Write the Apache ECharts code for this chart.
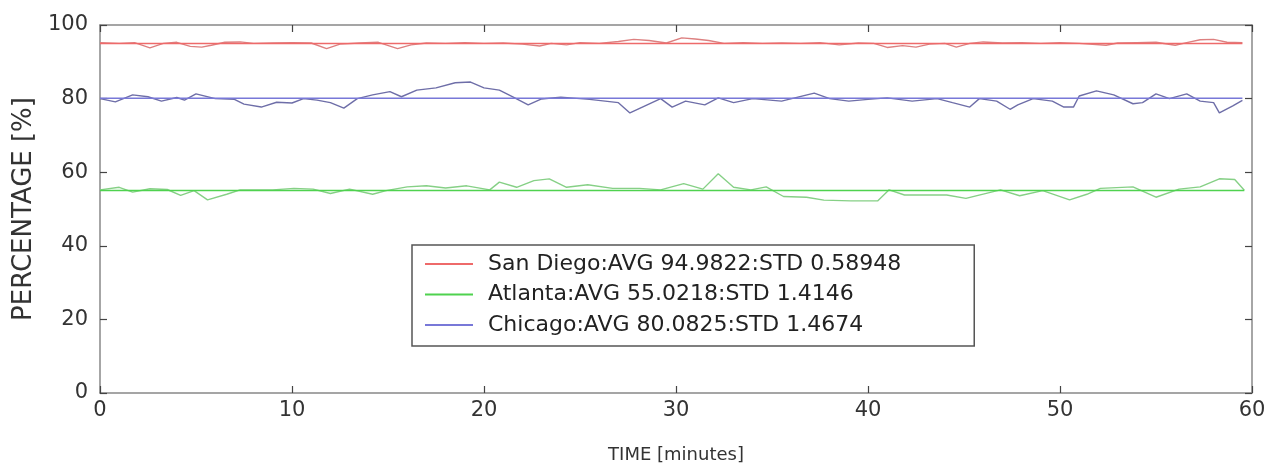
<!DOCTYPE html>
<html>
<head>
<meta charset="utf-8">
<script src="https://cdn.jsdelivr.net/npm/echarts@6/dist/echarts.min.js"></script>
<style>
  html, body { margin: 0; padding: 0; background: #fff; }
  #chart { width: 1278px; height: 466px; }
</style>
</head>
<body>
<div id="chart"></div>
<script>
// legend info
const cities = ['San Diego', 'Atlanta', 'Chicago'];
const avgs = ['94.9822', '55.0218', '80.0825'];
const stds = ['0.58948', '1.4146', '1.4674'];

// [minutes, percent]
const sanDiego = [[0,95.2],[1,95],[1.8,95.2],[2.6,93.8],[3.3,95],[4,95.3],[4.7,94.2],[5.3,94],[5.8,94.5],[6.5,95.3],
  [7.3,95.4],[8,95],[9,95.1],[10,95.2],[11,95.1],[11.8,93.6],[12.5,94.8],[13.5,95.1],[14.5,95.3],[15.5,93.6],
  [16.2,94.6],[17,95.1],[18,95],[19,95.2],[20,95],[21,95.1],[22,94.8],[22.9,94.3],[23.5,95],[24.3,94.6],
  [25,95.2],[26,95],[27,95.5],[27.8,96.1],[28.6,95.8],[29.5,95.1],[30.3,96.5],[31,96.2],[31.7,95.8],[32.5,95],
  [33.5,95.2],[34.5,95],[35.5,95.1],[36.5,95],[37.5,95.2],[38.5,94.6],[39.5,95.1],[40.3,95],[41,93.9],[41.8,94.4],
  [42.5,94],[43.2,94.8],[44,95],[44.6,94],[45.3,95],[46,95.4],[47,95.1],[48,95.2],[49,95],[50,95.2],
  [51,95],[52.4,94.5],[53,95.1],[54,95.2],[55,95.3],[56,94.5],[56.6,95.2],[57.3,96],[58,96.1],[58.7,95.3],[59.5,95.2]];

const atlanta = [[0,55.2],[1,55.9],[1.7,54.6],[2.6,55.5],[3.5,55.3],[4.2,53.7],[4.9,55],[5.6,52.5],[6.6,54],[7.3,55.2],
  [9,55.2],[10.1,55.6],[11.1,55.4],[12,54.2],[13,55.4],[14.2,54],[14.9,55],[16,56],[17,56.3],[18,55.7],
  [19.1,56.3],[20.3,55.2],[20.8,57.3],[21.7,55.9],[22.6,57.7],[23.4,58.2],[24.3,55.9],[25.4,56.6],[26.7,55.6],[28.1,55.6],
  [29.2,55.2],[30.4,56.9],[31.4,55.4],[32.2,59.6],[33,55.9],[33.9,55.2],[34.7,56],[35.6,53.4],[36.8,53.2],[37.7,52.4],
  [39.1,52.2],[40.5,52.2],[41.1,55.2],[41.9,53.8],[44.1,53.8],[45.1,52.9],[46.9,55.2],[47.9,53.6],[49.1,55],[50.5,52.5],
  [51.4,54],[52.1,55.6],[53.8,56],[55,53.2],[56.2,55.4],[57.3,56],[58.3,58.2],[59.1,58],[59.6,55.1]];

const chicago = [[0,80],[0.8,79.1],[1.7,81],[2.5,80.5],[3.2,79.3],[4,80.3],[4.4,79.6],[5,81.3],[6,80],[7,79.8],
  [7.5,78.5],[8.4,77.7],[9.2,79],[10,78.8],[10.6,80],[11.3,79.6],[12,78.9],[12.7,77.4],[13.4,80],[14.2,81],
  [15.1,81.9],[15.7,80.5],[16.5,82.3],[17.5,82.9],[18.5,84.3],[19.3,84.5],[20,82.9],[20.8,82.3],[21.5,80.5],[22.3,78.3],
  [23,79.9],[24,80.4],[25.5,79.8],[27,78.9],[27.6,76.1],[28.5,78.3],[29.2,80],[29.8,77.7],[30.5,79.3],[31.5,78.3],
  [32.2,80.2],[33,78.9],[34,80],[35.5,79.3],[37.2,81.5],[38,80],[39,79.3],[40,79.8],[41,80.2],[42.3,79.3],
  [43.6,80],[44.4,78.9],[45.3,77.7],[45.8,80],[46.7,79.3],[47.4,77.1],[47.8,78.3],[48.6,80],[49.6,79.3],[50.2,77.7],
  [50.7,77.7],[51,80.7],[51.9,82.1],[52.8,81],[53.8,78.6],[54.3,78.9],[55,81.3],[55.7,80],[56.6,81.3],[57.3,79.3],
  [58,78.9],[58.3,76.1],[59,78],[59.5,79.5]];

const seriesData = [sanDiego, atlanta, chicago];
const lineColors = ['#dd8080', '#86d086', '#6e6ea8'];
const avgColors = ['#ee6a6a', '#4fd24f', '#7878d8'];

const font = 'DejaVu Sans';
const chart = echarts.init(document.getElementById('chart'));

const series = [];
seriesData.forEach((d, i) => {
  series.push({
    name: cities[i],
    type: 'line',
    data: d,
    symbol: 'none',
    color: avgColors[i],
    lineStyle: { width: 1.4, color: lineColors[i] },
    silent: true
  });
});
seriesData.forEach((d, i) => {
  const t0 = d[0][0], t1 = d[d.length - 1][0];
  series.push({
    name: cities[i] + ' avg',
    type: 'line',
    data: [[t0, +avgs[i]], [t1, +avgs[i]]],
    symbol: 'none',
    lineStyle: { width: 1.5, color: avgColors[i] },
    silent: true
  });
});

const tickStyle = { show: true, inside: true, length: 7, lineStyle: { color: '#444', width: 1.2 } };
const lineAxis = { show: true, onZero: false, lineStyle: { color: '#888', width: 1.5 } };

chart.setOption({
  animation: false,
  backgroundColor: '#fff',
  grid: { left: 100, right: 26, top: 25, bottom: 73, outerBoundsMode: 'none' },
  xAxis: [{
    type: 'value', min: 0, max: 60, interval: 10,
    name: 'TIME [minutes]', nameLocation: 'middle', nameGap: 53,
    nameTextStyle: { fontFamily: font, fontSize: 18, color: '#333' },
    axisLine: lineAxis, axisTick: tickStyle,
    axisLabel: { fontFamily: font, fontSize: 21, color: '#333', margin: 7 },
    splitLine: { show: false }
  }, {
    type: 'value', min: 0, max: 60, interval: 10, position: 'top',
    axisLine: lineAxis, axisTick: tickStyle,
    axisLabel: { show: false }, splitLine: { show: false }
  }],
  yAxis: [{
    type: 'value', min: 0, max: 100, interval: 20,
    name: 'PERCENTAGE [%]', nameLocation: 'middle', nameGap: 57,
    nameTextStyle: { fontFamily: font, fontSize: 26, color: '#333' },
    axisLine: lineAxis, axisTick: tickStyle,
    axisLabel: { fontFamily: font, fontSize: 21, color: '#333', margin: 12 },
    splitLine: { show: false }
  }, {
    type: 'value', min: 0, max: 100, interval: 20, position: 'right',
    axisLine: lineAxis, axisTick: tickStyle,
    axisLabel: { show: false }, splitLine: { show: false }
  }],
  legend: {
    orient: 'vertical',
    left: 412, top: 245,
    data: cities,
    icon: 'rect',
    itemWidth: 48, itemHeight: 2, itemGap: 8.5,
    padding: [8, 73, 10, 13],
    backgroundColor: '#fff',
    borderColor: '#555', borderWidth: 1.5,
    formatter: name => {
      const i = cities.indexOf(name);
      return name + ':AVG ' + avgs[i] + ':STD ' + stds[i];
    },
    textStyle: { fontFamily: font, fontSize: 22, color: '#222', padding: [0, 0, 0, 10], lineHeight: 22 }
  },
  series: series
});
</script>
</body>
</html>
